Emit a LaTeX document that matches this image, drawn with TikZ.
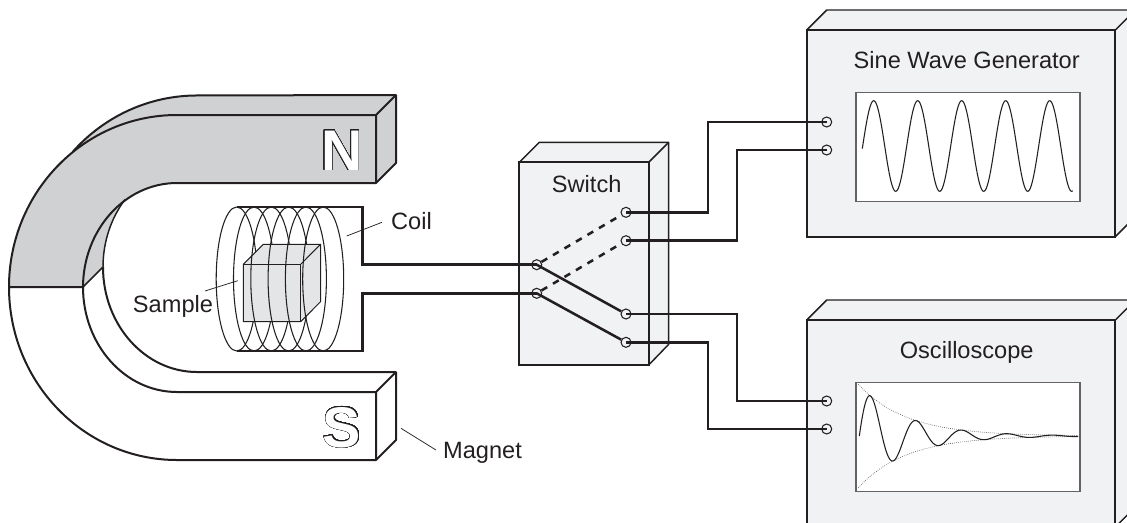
\documentclass[tikz,border=0pt]{standalone}
\usepackage{fontspec}
\setmainfont{Liberation Sans}
\newfontfamily\polefont{Liberation Sans}[BoldFont={Liberation Sans Bold}]
\usepackage{contour}
\contourlength{0.4pt}
\contournumber{48}
\definecolor{ink}{HTML}{231F20}
\definecolor{magnetgrey}{HTML}{CFD1D3}
\definecolor{cubegrey}{HTML}{E4E5E7}
\definecolor{panel}{HTML}{F1F2F4}
\tikzset{
  heavy/.style={draw=ink,line width=1.5pt,line join=round},
  wire/.style={draw=ink,line width=1.9pt,line join=miter},
  thinline/.style={draw=ink,line width=0.75pt},
  coilloop/.style={draw=ink,line width=0.8pt},
  leader/.style={draw=ink,line width=0.55pt},
  backedge/.style={draw=ink,line width=1.1pt,line join=round},
  frontedge/.style={draw=ink,line width=1.7pt,line join=miter},
  terminal/.style={circle,draw=ink,line width=0.8pt,minimum size=7.5pt,inner sep=0pt},
  lbl/.style={font=\fontsize{17.7}{20}\selectfont,text=ink,inner sep=0pt,anchor=base},
  pole/.style={font=\polefont\bfseries\fontsize{43}{43}\selectfont,text=white,inner sep=0pt,anchor=base},
  screen/.style={draw=ink!70,line width=0.8pt,fill=white}
}
\begin{document}
\begin{tikzpicture}[x=0.75pt,y=-0.75pt]
\useasboundingbox (0,0) rectangle (1127,522);
\clip (0,0) rectangle (1127,522);
% ---- magnet, N half
\path[fill=magnetgrey] (73,151.5) arc[start angle=222.4,end angle=270,x radius=168,y radius=172] -- (396,95) -- (396,163) -- (376,183) -- (177,183)
   arc[start angle=270,end angle=180,x radius=94,y radius=104.5] -- (9,287) arc[start angle=180,end angle=222,x radius=168,y radius=172] -- cycle;
\path[heavy] (73,151.5) arc[start angle=222.4,end angle=270,x radius=168,y radius=172] -- (396,95) -- (396,163) -- (376,183);
\path[heavy] (376,115) -- (396,95);
% inner sliver
\path[fill=magnetgrey] (83,287) -- (103,267) arc[start angle=180,end angle=220,x radius=94,y radius=105] -- (125,200) arc[start angle=236.4,end angle=180,x radius=94,y radius=104.5] -- cycle;
\path[heavy,line width=1.1pt] (83,287) -- (103,267) arc[start angle=180,end angle=220,x radius=94,y radius=105];
\path[heavy] (9,287) arc[start angle=180,end angle=270,x radius=168,y radius=172] -- (376,115) -- (376,183) -- (177,183)
   arc[start angle=270,end angle=180,x radius=94,y radius=104.5] -- cycle;
% ---- magnet, S half
\path[heavy,fill=white] (9,287) arc[start angle=180,end angle=90,x radius=168,y radius=173] -- (376,460) -- (376,392) -- (177,392)
   arc[start angle=90,end angle=180,x radius=94,y radius=105] -- cycle;
\path[heavy] (103,267) arc[start angle=180,end angle=90,x radius=94,y radius=105] -- (396,372) -- (396,440) -- (376,460);
\path[heavy] (376,392) -- (396,372);
\node[pole] (poleN) at (342,170) {\contour{ink}{N}};
\node[pole] (poleS) at (342,447) {\contour{ink}{S}};
% ---- coil, back halves of the loops
\foreach \k in {0,...,5}{
  \path[coilloop] ({236.7+17.3*\k},207) arc[start angle=270,end angle=450,x radius=20.5,y radius=72];
}
% ---- sample cube
\path[thinline,fill=cubegrey] (243.3,264.3) -- (263.3,244.3) -- (320.5,244.3) -- (320.5,301.7) -- (300.7,321.7) -- (243.3,321.7) -- cycle;
\path[thinline] (243.3,264.3) -- (300.7,264.3) -- (300.7,321.7);
\path[thinline] (300.7,264.3) -- (320.5,244.3);
% ---- coil, front halves of the loops
\foreach \k in {0,...,5}{
  \path[coilloop] ({236.7+17.3*\k},207) arc[start angle=270,end angle=90,x radius=20.5,y radius=72];
}
% ---- switch box
\path[backedge,fill=panel] (519.3,162.3) -- (539.3,142.3) -- (668.7,142.3) -- (668.7,344.3) -- (648.7,365) -- cycle;
\path[backedge] (648.7,162.3) -- (668.7,142.3);
\path[frontedge,fill=panel] (519.3,162.3) rectangle (648.7,365);
\node[lbl] (switchlabel) at (586.7,192) {Switch};
% ---- instrument boxes
\path[backedge,fill=panel] (806.7,30) -- (826.7,10) -- (1135.3,10) -- (1135.3,216.7) -- (1115.3,236.7) -- cycle;
\path[backedge] (1115.3,30) -- (1135.3,10);
\path[frontedge,fill=panel] (806.7,30) rectangle (1115.3,236.7);
\node[lbl] (genlabel) at (966.7,68) {Sine Wave Generator};
\path[screen] (856,92.3) rectangle (1080,201.7);
\draw[ink,line width=0.8pt,smooth] plot[domain=862.3:1072.7,samples=240,variable=\x] ({\x},{146-45.3*sin((\x-862.7)/44*360)});
\path[backedge,fill=panel] (806.7,320) -- (826.7,300) -- (1135.3,300) -- (1135.3,507) -- (1115.3,527) -- cycle;
\path[backedge] (1115.3,320) -- (1135.3,300);
\path[frontedge,fill=panel] (806.7,320) rectangle (1115.3,527);
\node[lbl] (scopelabel) at (966.7,358) {Oscilloscope};
\path[screen] (856,382.3) rectangle (1080,491.7);
\draw[ink!75,line width=0.5pt,densely dotted,smooth] plot[domain=858.3:1078,samples=120,variable=\x] ({\x},{436-51.7*exp(-(\x-858.3)/47.8)});
\draw[ink!75,line width=0.5pt,densely dotted,smooth] plot[domain=858.3:1078,samples=120,variable=\x] ({\x},{436+51.7*exp(-(\x-858.3)/47.8)});
\draw[ink,line width=0.8pt,smooth] plot[domain=859.3:1078,samples=240,variable=\x] ({\x},{436-51.7*exp(-(\x-858.3)/47.8)*sin((\x-859.3)/45.7*360)});
% ---- terminals
\node[terminal] (swL1) at (536.7,264.7) {};
\node[terminal] (swL2) at (536.7,293.3) {};
\node[terminal] (swA1) at (626,212.3) {};
\node[terminal] (swA2) at (626,240.7) {};
\node[terminal] (swB1) at (626,314) {};
\node[terminal] (swB2) at (626,342.3) {};
\node[terminal] (gen1) at (826.7,122) {};
\node[terminal] (gen2) at (826.7,150) {};
\node[terminal] (sco1) at (826.7,401) {};
\node[terminal] (sco2) at (826.7,429) {};
% ---- coil leads
\coordinate (coilT) at (236.7,207);
\coordinate (coilTR) at (362.6,207);
\coordinate (coilB) at (236.7,351);
\coordinate (coilBR) at (362.6,351);
\path[wire] (coilT) -- (coilTR) |- (swL1.center);
\path[wire] (coilB) -- (coilBR) |- (swL2.center);
% ---- switch contacts
\path[wire] (swL1.center) -- (swB1);
\path[wire] (swL2.center) -- (swB2);
\path[wire,dash pattern=on 5pt off 5pt] (swL1) -- (swA1);
\path[wire,dash pattern=on 5pt off 5pt] (swL2) -- (swA2);
% ---- wires to the instruments
\path[wire] (swA1.center) -- ++(82,0) |- (gen1.center);
\path[wire] (swA2.center) -- ++(111,0) |- (gen2.center);
\path[wire] (swB1.center) -- ++(111,0) |- (sco1.center);
\path[wire] (swB2.center) -- ++(82,0) |- (sco2.center);
% ---- labels and leaders
\node[lbl] (coillabel) at (411.5,229.5) {Coil};
\coordinate (coilstart) at (382,222.3);
\coordinate (coilpt) at (346.7,236);
\path[leader] (coilstart) -- (coilpt);
\node[lbl] (samplelabel) at (173,312) {Sample};
\coordinate (samplept) at (237.7,280.7);
\coordinate (samplestart) at (205,291);
\path[leader] (samplestart) -- (samplept);
\node[lbl] (magnetlabel) at (482.5,458) {Magnet};
\coordinate (magnetpt) at (401,428.3);
\coordinate (magnetstart) at (436,450);
\path[leader] (magnetstart) -- (magnetpt);
\end{tikzpicture}
\end{document}
